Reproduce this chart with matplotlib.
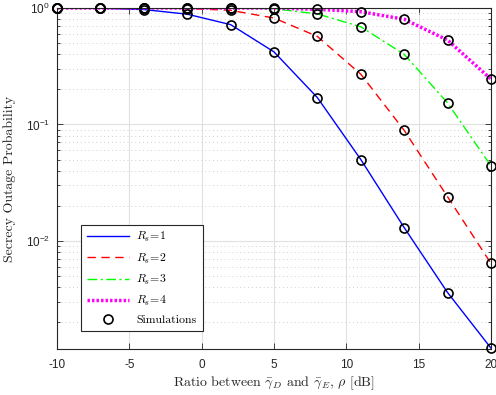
#!/usr/bin/env python3
"""Secrecy outage probability vs rho -> out.png"""
import matplotlib

matplotlib.use("Agg")
import matplotlib.pyplot as plt  # noqa: E402
from matplotlib.ticker import LogLocator, FixedLocator  # noqa: E402

rho = [-10, -7, -4, -1, 2, 5, 8, 11, 14, 17, 20]
p_rs1 = [1.0, 0.995, 0.97, 0.885, 0.72, 0.42, 0.17, 0.050, 0.013, 0.0036, 0.0012]
p_rs2 = [1.0, 1.0, 0.998, 0.99, 0.955, 0.82, 0.57, 0.27, 0.089, 0.0239, 0.0064]
p_rs3 = [1.0, 1.0, 1.0, 1.0, 0.998, 0.985, 0.89, 0.69, 0.40, 0.153, 0.044]
p_rs4 = [1.0, 1.0, 1.0, 1.0, 1.0, 0.998, 0.975, 0.93, 0.80, 0.53, 0.245]
xticks = [-10, -5, 0, 5, 10, 15, 20]

plt.rcParams["axes.unicode_minus"] = False
plt.rcParams["font.family"] = ["Liberation Sans", "DejaVu Sans"]
plt.rcParams["mathtext.fontset"] = "custom"
plt.rcParams["mathtext.rm"] = "Liberation Sans"
plt.rcParams["mathtext.it"] = "Liberation Sans:italic"

fig = plt.figure(figsize=(4.96, 3.95), dpi=100)
ax = fig.add_axes([57 / 496, 1 - 349 / 395, 434 / 496, 341 / 395])

styles = [
    (p_rs1, "-", "#0000ff", r"$R_s\!=\!1$", 1.0),
    (p_rs2, (0, (6, 4)), "#ff0000", r"$R_s\!=\!2$", 1.0),
    (p_rs3, (0, (7, 2.5, 1.5, 2.5)), "#00ff00", r"$R_s\!=\!3$", 1.0),
    (p_rs4, (0, (0.7, 0.6)), "#ff00ff", r"$R_s\!=\!4$", 2.5),
]
for vals, ls, col, lab, lw in styles:
    ax.plot(rho, vals, linestyle=ls, color=col, lw=lw, label=lab)
for vals, *_ in styles:
    ax.plot(rho, vals, "o", mfc="none", mec="black", ms=6.5, mew=1.2,
            clip_on=False, zorder=5)
ax.plot([], [], "o", mfc="none", mec="black", ms=6.5, mew=1.2, label="Simulations")

ax.set_yscale("log")
ax.set_xlim(-10, 20)
ax.set_ylim(0.00118, 1)
ax.xaxis.set_major_locator(FixedLocator(xticks))
ax.yaxis.set_major_locator(LogLocator(base=10, numticks=10))
ax.yaxis.set_minor_locator(LogLocator(base=10, subs=range(2, 10), numticks=10))
ax.grid(True, which="major", color="#e0e0e0", lw=0.8)
ax.grid(True, which="minor", axis="y", color="#d0d0d0", ls=(0, (1, 3)), lw=0.7)
ax.set_axisbelow(True)
ax.tick_params(which="both", direction="in", top=True, right=True,
               labelsize=8.5, colors="#262626", width=0.6)
ax.tick_params(which="major", length=4)
ax.tick_params(which="minor", length=2)
ax.tick_params(axis="x", pad=7)
ax.tick_params(axis="y", pad=5)
for s in ax.spines.values():
    s.set_color("#262626")
    s.set_linewidth(0.8)

xl = ax.set_xlabel(r"Ratio between $\bar{\gamma}_D$ and $\bar{\gamma}_E$, $\rho$ [dB]",
                   family="cmr10", fontsize=10, color="#262626", labelpad=3)
xl.set_math_fontfamily("cm")
ax.set_ylabel("Secrecy Outage Probability", family="cmr10", fontsize=10,
              color="#262626", labelpad=7)

leg = ax.legend(loc="lower left", bbox_to_anchor=(24 / 434, 18 / 341),
                borderaxespad=0, handlelength=3.6, fontsize=8.5, fancybox=False,
                framealpha=1, edgecolor="#262626", borderpad=0.5,
                labelspacing=0.6, handletextpad=0.6)
leg.get_frame().set_linewidth(0.8)
for t in leg.get_texts():
    t.set_math_fontfamily("cm")
    t.set_family("cmr10")

fig.savefig("out.png", dpi=100)
